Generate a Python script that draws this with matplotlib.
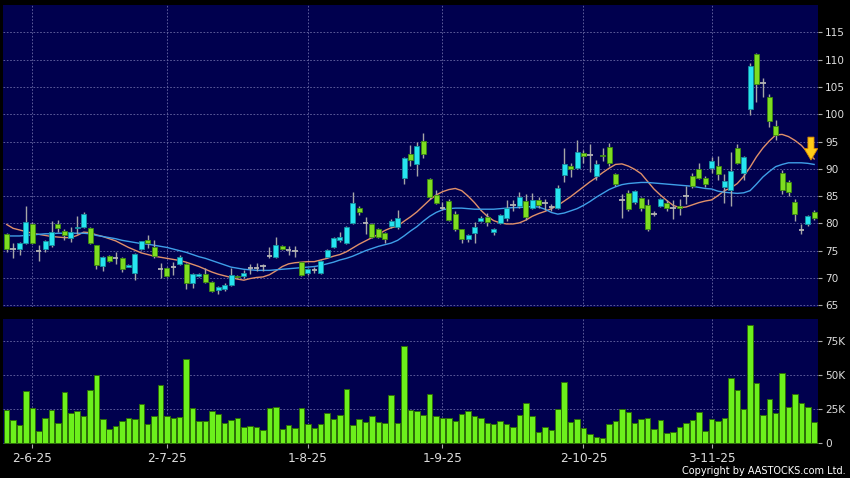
import numpy as np
import matplotlib
matplotlib.use("Agg")
import matplotlib.pyplot as plt
from matplotlib.patches import FancyArrow

# x axis labels (first trading day of each month) and their bar index
date_labels = ["2-6-25", "2-7-25", "1-8-25", "1-9-25", "2-10-25", "3-11-25"]
date_pos = [4, 25, 47, 68, 90, 110]

opens = [78.0, 75.4, 75.4, 76.4, 79.8, 75.0, 75.4, 76.0, 79.8, 78.7,
         77.4, 79.1, 79.4, 79.1, 76.0, 72.2, 74.0, 73.7, 73.6, 72.1,
         70.9, 75.4, 77.0, 75.6, 71.6, 71.8, 72.0, 72.6, 72.6, 69.0,
         70.4, 70.7, 69.2, 67.8, 67.9, 68.8, 70.4, 70.4, 71.8, 71.9,
         72.2, 74.0, 73.8, 75.9, 75.1, 75.0, 72.9, 71.0, 71.4, 71.0,
         73.8, 75.7, 77.0, 76.4, 80.0, 82.9, 80.0, 79.8, 78.9, 78.2,
         79.5, 79.3, 88.4, 92.8, 90.8, 95.1, 88.1, 85.2, 82.9, 84.1,
         81.8, 78.9, 77.1, 78.3, 80.5, 81.1, 78.4, 80.0, 81.0, 83.4,
         83.1, 84.1, 82.9, 84.2, 83.8, 83.0, 82.9, 88.9, 90.6, 90.1,
         92.9, 92.6, 88.6, 92.6, 94.0, 89.0, 84.3, 85.5, 83.9, 84.6,
         83.3, 81.7, 83.2, 83.7, 82.8, 83.2, 85.1, 88.6, 89.9, 88.4,
         90.1, 90.5, 86.7, 86.1, 93.8, 89.2, 100.9, 111.0, 105.8, 103.1,
         97.9, 89.2, 87.5, 84.0, 78.8, 79.8, 82.1]
highs = [78.3, 76.4, 76.6, 83.2, 80.2, 76.0, 77.0, 80.4, 80.7, 79.0,
         79.4, 81.3, 82.0, 79.3, 76.1, 74.0, 74.2, 74.8, 73.8, 72.6,
         74.6, 76.8, 77.9, 77.0, 72.8, 72.0, 72.9, 74.2, 72.8, 71.0,
         71.0, 71.8, 69.4, 68.6, 69.0, 71.8, 70.6, 71.5, 72.6, 72.7,
         72.6, 75.6, 77.6, 76.0, 75.9, 75.9, 73.0, 71.8, 72.0, 73.3,
         75.3, 77.5, 78.4, 79.6, 85.8, 83.2, 81.2, 80.0, 79.2, 78.4,
         80.8, 82.5, 92.2, 94.3, 95.0, 96.5, 88.3, 86.1, 84.0, 84.4,
         82.2, 79.0, 78.0, 80.3, 81.3, 81.9, 79.2, 81.7, 84.3, 84.3,
         85.8, 85.3, 85.5, 84.8, 84.5, 83.5, 87.0, 93.8, 91.0, 95.2,
         93.4, 94.5, 91.6, 93.8, 94.7, 89.2, 85.4, 86.1, 86.2, 84.8,
         84.4, 82.3, 84.6, 84.2, 84.2, 84.4, 86.8, 89.2, 91.0, 88.6,
         92.1, 92.3, 89.0, 93.0, 94.6, 92.4, 109.3, 111.2, 106.6, 103.7,
         98.9, 89.7, 88.0, 84.4, 79.9, 81.6, 82.5]
lows = [74.8, 73.7, 74.3, 76.2, 76.2, 73.2, 74.7, 75.7, 78.5, 77.0,
        76.6, 78.0, 79.2, 76.2, 71.6, 71.3, 72.9, 72.6, 71.1, 72.0,
        69.6, 75.2, 75.5, 73.6, 70.0, 70.2, 70.6, 72.4, 67.9, 68.1,
        70.2, 69.0, 67.4, 67.0, 67.7, 68.6, 70.0, 70.0, 70.8, 71.2,
        71.3, 73.6, 73.6, 75.2, 74.2, 73.8, 70.3, 70.6, 70.9, 70.8,
        73.6, 75.5, 76.6, 76.2, 79.8, 81.6, 78.0, 77.4, 77.3, 76.5,
        79.2, 79.0, 87.3, 90.6, 88.7, 92.0, 84.5, 83.5, 82.5, 80.5,
        78.6, 76.5, 76.6, 76.5, 80.2, 79.6, 77.8, 79.8, 80.5, 82.2,
        82.9, 80.6, 82.7, 82.8, 82.5, 82.2, 82.7, 87.5, 88.5, 89.9,
        91.0, 89.4, 88.0, 91.5, 90.6, 86.8, 80.9, 82.3, 83.5, 82.3,
        78.7, 81.3, 83.0, 82.2, 80.8, 81.5, 83.5, 86.5, 88.2, 86.6,
        89.3, 88.0, 83.8, 83.1, 90.8, 88.0, 99.8, 102.3, 103.2, 97.6,
        95.3, 85.3, 85.1, 80.4, 78.0, 79.5, 80.6]
closes = [75.3, 75.4, 76.4, 80.3, 76.4, 75.0, 76.8, 78.5, 79.2, 77.8,
          78.5, 79.4, 81.8, 76.4, 72.3, 73.8, 73.1, 73.7, 71.6, 72.4,
          74.4, 76.7, 76.4, 74.0, 71.6, 70.4, 72.0, 73.9, 69.0, 70.8,
          70.8, 69.3, 67.6, 68.3, 68.7, 70.5, 70.2, 71.0, 71.8, 71.9,
          72.2, 74.0, 76.0, 75.3, 75.1, 75.0, 70.5, 71.6, 71.4, 73.1,
          75.1, 77.3, 77.6, 79.4, 83.8, 82.0, 80.0, 77.6, 77.6, 77.1,
          80.4, 80.9, 92.0, 91.6, 94.2, 92.7, 84.9, 83.8, 82.9, 80.7,
          78.9, 77.1, 77.9, 79.4, 80.9, 80.3, 79.0, 81.5, 82.8, 83.4,
          84.9, 81.2, 84.3, 83.3, 83.8, 83.0, 86.4, 90.8, 89.9, 93.1,
          92.4, 92.6, 90.8, 92.4, 91.0, 87.2, 84.3, 82.6, 85.9, 82.8,
          79.0, 81.7, 84.4, 82.9, 82.8, 82.8, 85.1, 86.9, 88.4, 87.3,
          91.5, 89.0, 87.8, 89.6, 91.0, 92.2, 108.8, 105.5, 105.8, 98.8,
          96.1, 86.1, 85.7, 81.8, 78.8, 81.4, 80.9]

# volume in thousands
volumes = [24.3, 17.0, 13.4, 38.2, 25.6, 9.0, 18.7, 24.3, 15.1, 37.7,
           22.4, 23.6, 20.2, 39.0, 49.9, 17.5, 10.2, 12.9, 16.3, 18.3,
           17.5, 28.7, 13.9, 20.0, 42.8, 20.2, 18.7, 19.2, 61.6, 25.8,
           16.3, 16.5, 23.4, 21.2, 15.1, 17.3, 18.5, 12.2, 12.6, 12.0,
           9.5, 25.6, 26.3, 10.7, 13.2, 11.0, 25.8, 13.9, 10.9, 13.9,
           21.9, 17.8, 20.5, 39.5, 13.2, 17.8, 15.8, 19.7, 15.8, 15.1,
           35.3, 14.8, 71.1, 24.6, 23.6, 20.9, 35.8, 19.7, 18.7, 18.7,
           16.0, 21.7, 23.9, 20.0, 18.3, 14.8, 14.1, 16.3, 13.9, 12.2,
           20.9, 29.5, 20.0, 8.0, 12.0, 9.7, 24.8, 44.8, 15.3, 17.8,
           10.9, 6.6, 4.6, 4.1, 13.9, 16.5, 25.1, 22.9, 14.6, 17.5,
           18.7, 10.2, 16.8, 7.5, 8.0, 12.0, 14.8, 17.0, 22.6, 8.7,
           17.8, 16.0, 18.5, 47.5, 39.2, 25.1, 86.5, 44.1, 20.5, 32.1,
           22.2, 51.6, 26.3, 36.0, 29.5, 26.6, 15.8]

# moving averages as drawn on the chart
ma_short = [79.8, 79.1, 78.8, 78.5, 78.2, 78.0, 77.8, 77.6, 77.5, 77.4,
            77.4, 77.8, 78.4, 78.3, 77.9, 77.6, 77.2, 76.8, 76.2, 75.6,
            75.1, 74.6, 74.3, 74.0, 73.8, 73.6, 73.4, 73.2, 72.9, 72.5,
            72.1, 71.6, 71.1, 70.7, 70.4, 70.1, 69.8, 69.6, 69.9, 70.1,
            70.2, 70.6, 71.3, 72.1, 72.6, 72.8, 72.9, 73.0, 73.0, 73.3,
            73.6, 74.0, 74.3, 74.8, 75.5, 76.2, 76.8, 77.4, 78.0, 78.7,
            79.2, 79.5, 80.4, 81.2, 82.1, 83.2, 84.3, 85.2, 85.8, 86.2,
            86.4, 86.0, 85.0, 83.8, 82.4, 81.3, 80.5, 80.1, 79.9, 79.9,
            80.1, 80.6, 81.3, 81.8, 82.2, 82.7, 83.3, 84.1, 84.9, 85.8,
            86.7, 87.6, 88.4, 89.3, 90.1, 90.8, 90.9, 90.5, 89.9, 89.1,
            87.7, 86.3, 85.2, 84.2, 83.3, 82.9, 83.0, 83.4, 83.8, 84.1,
            84.3, 85.1, 86.0, 86.5, 87.3, 88.6, 90.3, 92.2, 93.8, 95.1,
            96.2, 96.3, 95.9, 95.2, 94.3, 93.0, 91.8]
ma_long = [77.7, 77.7, 77.7, 77.8, 77.9, 78.0, 78.1, 78.1, 78.2, 78.2,
           78.2, 78.2, 78.2, 78.1, 77.8, 77.6, 77.4, 77.2, 76.9, 76.7,
           76.5, 76.3, 76.2, 76.0, 75.8, 75.6, 75.3, 75.0, 74.7, 74.3,
           73.9, 73.6, 73.2, 72.8, 72.4, 72.0, 71.8, 71.6, 71.5, 71.4,
           71.4, 71.4, 71.5, 71.6, 71.7, 71.8, 71.9, 72.0, 72.1, 72.3,
           72.6, 72.9, 73.3, 73.6, 74.0, 74.5, 75.0, 75.4, 75.8, 76.1,
           76.4, 76.9, 77.7, 78.6, 79.4, 80.4, 81.3, 82.0, 82.5, 82.7,
           82.8, 82.8, 82.7, 82.6, 82.6, 82.6, 82.6, 82.7, 82.8, 82.9,
           82.9, 83.0, 83.1, 83.0, 82.6, 82.0, 81.7, 81.9, 82.3, 82.7,
           83.3, 84.0, 84.8, 85.5, 86.2, 86.7, 87.1, 87.3, 87.4, 87.5,
           87.5, 87.4, 87.3, 87.2, 87.1, 87.0, 86.9, 86.8, 86.6, 86.4,
           86.3, 85.9, 85.7, 85.6, 85.5, 85.6, 86.0, 87.2, 88.5, 89.5,
           90.4, 90.8, 91.1, 91.1, 91.1, 91.0, 90.8]

NAVY = "#00004e"
GRID = "#6a6aa6"
TXT = "#dddddd"

o = np.array(opens)
h = np.array(highs)
l = np.array(lows)
c = np.array(closes)
x = np.arange(len(o))

fig = plt.figure(figsize=(8.5, 4.78), dpi=100, facecolor="black")
ax = fig.add_axes([3 / 850, 1 - 307 / 478, 815 / 850, 302 / 478], facecolor=NAVY)
axv = fig.add_axes([3 / 850, 1 - 444 / 478, 815 / 850, 125 / 478], facecolor=NAVY)

# price panel
ax.plot(x, ma_short, color="#e0906a", lw=1.0, zorder=2)
ax.plot(x, ma_long, color="#3f9fe8", lw=1.0, zorder=2)
ax.vlines(x, l, h, color="#a6a6a6", lw=1.0, zorder=3)
up = c > o
dn = c < o
flat = c == o
ax.bar(x[up], (c - o)[up], bottom=o[up], width=0.78, color="#26e4f0",
       edgecolor="#1590a0", lw=0.6, zorder=4)
ax.bar(x[dn], (o - c)[dn], bottom=c[dn], width=0.78, color="#7edc20",
       edgecolor="#3c8a10", lw=0.6, zorder=4)
ax.hlines(c[flat], x[flat] - 0.42, x[flat] + 0.42, color="#b4b4b4", lw=1.3, zorder=4)

# signal arrow at the last point
ax.add_patch(FancyArrow(x[-1] - 0.5, ma_short[-1] + 4.0, 0, -4.2, width=0.95,
                        head_width=2.1, head_length=2.1, length_includes_head=True,
                        fc="#ffcc18", ec="#d98600", lw=0.6, zorder=6))

ax.set_xlim(-0.58, 126.6)
ax.set_ylim(64.69, 120.0)
ax.set_yticks(np.arange(65, 120, 5))
ax.set_xticks(date_pos)
ax.set_xticklabels([])

# volume panel
axv.bar(x, volumes, width=0.86, color="#6cf01c", edgecolor="#2d6e08", lw=0.7, zorder=3)
axv.set_xlim(-0.58, 126.6)
axv.set_ylim(-0.5, 90.9)
axv.set_yticks([0, 25, 50, 75])
axv.set_yticklabels(["0", "25K", "50K", "75K"])
axv.set_xticks(date_pos)
axv.set_xticklabels(date_labels)

for a in (ax, axv):
    for s in a.spines.values():
        s.set_visible(False)
    a.grid(True, color=GRID, linestyle=(0, (2, 2)), lw=0.6, zorder=0)
    a.set_axisbelow(True)
    a.yaxis.tick_right()
    a.tick_params(axis="y", colors=TXT, labelsize=7.6, length=3, width=0.8,
                  pad=2, color="#aaaaaa")

ax.tick_params(axis="x", length=0)
axv.tick_params(axis="x", colors=TXT, labelsize=8.7, length=3, width=0.8,
                pad=3, color="#aaaaaa")

fig.text(846 / 850, 1 - 471 / 478, "Copyright by AASTOCKS.com Ltd.",
         color="white", fontsize=7, ha="right", va="center")

fig.savefig("out.png", dpi=100, facecolor="black")
